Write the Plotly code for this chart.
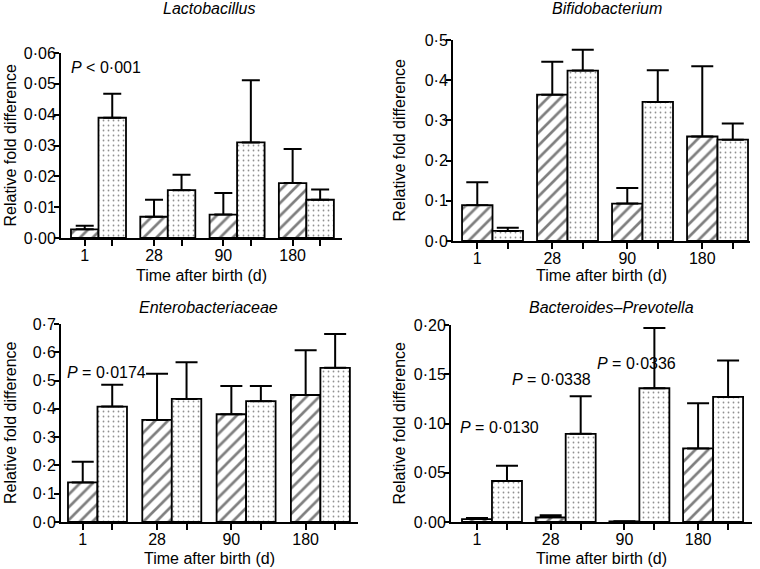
import plotly.graph_objects as go

W, H = 760, 569

# ---------------- data ----------------
days = ["1", "28", "90", "180"]

titles = ["Lactobacillus", "Bifidobacterium", "Enterobacteriaceae", "Bacteroides–Prevotella"]

# hatched group (first bar of each pair) and dotted group (second bar)
lacto_hatched = [0.0028, 0.0069, 0.0076, 0.0178]
lacto_hatched_err = [0.0012, 0.0055, 0.0070, 0.0111]
lacto_dotted = [0.0390, 0.0155, 0.0310, 0.0124]
lacto_dotted_err = [0.0078, 0.0050, 0.0202, 0.0033]

bifido_hatched = [0.089, 0.364, 0.093, 0.260]
bifido_hatched_err = [0.057, 0.082, 0.039, 0.175]
bifido_dotted = [0.025, 0.424, 0.346, 0.252]
bifido_dotted_err = [0.008, 0.052, 0.079, 0.040]

entero_hatched = [0.140, 0.361, 0.381, 0.449]
entero_hatched_err = [0.073, 0.163, 0.100, 0.158]
entero_dotted = [0.408, 0.435, 0.427, 0.545]
entero_dotted_err = [0.077, 0.130, 0.054, 0.120]

bact_hatched = [0.0030, 0.0047, 0.0006, 0.0747]
bact_hatched_err = [0.0010, 0.0021, 0.0002, 0.0459]
bact_dotted = [0.0416, 0.0895, 0.1358, 0.1270]
bact_dotted_err = [0.0154, 0.0382, 0.0612, 0.0370]

lacto_yticks = [0, 0.01, 0.02, 0.03, 0.04, 0.05, 0.06]
bifido_yticks = [0, 0.1, 0.2, 0.3, 0.4, 0.5]
entero_yticks = [0, 0.1, 0.2, 0.3, 0.4, 0.5, 0.6, 0.7]
bact_yticks = [0, 0.05, 0.10, 0.15, 0.20]

p_lacto = ["<i>P</i> &lt; 0·001"]
p_bifido = ["<i>P</i> = 0·0064"]
p_entero = ["<i>P</i> = 0·0174"]
p_bact = ["<i>P</i> = 0·0130", "<i>P</i> = 0·0338", "<i>P</i> = 0·0336"]

# ---------------- layout helpers ----------------
FONT = "Liberation Sans, Arial, sans-serif"
FS = 16


def px(x):
    return x / W


def py(y):
    return 1 - y / H


panels = [
    dict(h=lacto_hatched, he=lacto_hatched_err, d=lacto_dotted, de=lacto_dotted_err,
         yt=lacto_yticks, dec=2, xdom=(61, 342), ydom=(53, 238), xr=(-0.541, 3.514), gap=0.206, cap=9,
         ann=[(p_lacto[0], -0.42, 0.0553)], title_xy=(209, 9), xt_y=275, yt_x=10),
    dict(h=bifido_hatched, he=bifido_hatched_err, d=bifido_dotted, de=bifido_dotted_err,
         yt=bifido_yticks, dec=1, xdom=(453, 750), ydom=(40, 241), xr=(-0.527, 3.433), gap=0.187, cap=11,
         ann=[(p_bifido[0], 1.54, 0.505)], title_xy=(607, 9), xt_y=275, yt_x=399),
    dict(h=entero_hatched, he=entero_hatched_err, d=entero_dotted, de=entero_dotted_err,
         yt=entero_yticks, dec=1, xdom=(61, 358), ydom=(324, 522), xr=(-0.491, 3.506), gap=0.206, cap=11,
         ann=[(p_entero[0], -0.44, 0.527)], title_xy=(208, 307), xt_y=558, yt_x=10),
    dict(h=bact_hatched, he=bact_hatched_err, d=bact_dotted, de=bact_dotted_err,
         yt=bact_yticks, dec=2, xdom=(451, 752), ydom=(325, 522), xr=(-0.556, 3.528), gap=0.186, cap=11,
         ann=[(p_bact[0], -0.46, 0.0964), (p_bact[1], 0.245, 0.1442), (p_bact[2], 1.398, 0.1614)],
         title_xy=(611, 307), xt_y=558, yt_x=399),
]

fig = go.Figure()
annotations = []
layout = {}

for k, p in enumerate(panels):
    n = "" if k == 0 else str(k + 1)
    xa, ya = "x" + n, "y" + n
    xi = list(range(len(days)))
    bw = (1 - p["gap"]) / 2
    half = bw / 2

    fig.add_trace(go.Bar(
        x=xi, y=p["h"], xaxis=xa, yaxis=ya, width=bw, offset=-bw,
        marker=dict(color="white", line=dict(color="black", width=1.8),
                    pattern=dict(shape="/", fgcolor="black", bgcolor="white", size=9, solidity=0.3)),
        error_y=dict(type="data", symmetric=False, array=p["he"], arrayminus=[0] * 4,
                     color="black", thickness=2, width=p["cap"]),
        showlegend=False, hoverinfo="skip",
    ))
    fig.add_trace(go.Bar(
        x=xi, y=p["d"], xaxis=xa, yaxis=ya, width=bw, offset=0,
        marker=dict(color="white", line=dict(color="black", width=1.8),
                    pattern=dict(shape=".", fgcolor="#222", bgcolor="white", size=5, solidity=0.1)),
        error_y=dict(type="data", symmetric=False, array=p["de"], arrayminus=[0] * 4,
                     color="black", thickness=2, width=p["cap"]),
        showlegend=False, hoverinfo="skip",
    ))

    tickvals, ticktext = [], []
    for i, d in zip(xi, days):
        tickvals += [i - half, i + half]
        ticktext += [d, ""]

    layout["xaxis" + n] = dict(
        domain=[px(p["xdom"][0]), px(p["xdom"][1])], anchor=ya, range=list(p["xr"]),
        tickmode="array", tickvals=tickvals, ticktext=ticktext, tickangle=0, automargin=False,
        ticklabelstandoff=-4,
        showline=True, linewidth=2, linecolor="black", ticks="outside", ticklen=6, tickwidth=2,
        tickcolor="black", showgrid=False, zeroline=False,
        tickfont=dict(family=FONT, size=FS, color="black"),
    )
    ymax = p["yt"][-1]
    fmt = "{:." + str(p["dec"]) + "f}"
    layout["yaxis" + n] = dict(
        domain=[py(p["ydom"][1]), py(p["ydom"][0])], anchor=xa, range=[0, ymax], automargin=False,
        tickmode="array", tickvals=p["yt"], ticktext=[fmt.format(v).replace(".", "·") for v in p["yt"]],
        ticklabelstandoff=-5,
        showline=True, linewidth=2, linecolor="black", ticks="outside", ticklen=5, tickwidth=2,
        tickcolor="black", showgrid=False, zeroline=False,
        tickfont=dict(family=FONT, size=FS, color="black"),
    )

    for text, ax, ay in p["ann"]:
        annotations.append(dict(text=text, x=ax, y=ay, xref=xa, yref=ya, xanchor="left", yanchor="middle",
                                showarrow=False, font=dict(family=FONT, size=FS, color="black")))

    tx, ty = p["title_xy"]
    annotations.append(dict(text="<i>" + titles[k] + "</i>", x=px(tx), y=py(ty), xref="paper", yref="paper",
                            xanchor="center", yanchor="middle", showarrow=False,
                            font=dict(family=FONT, size=FS, color="black")))
    xc = (p["xdom"][0] + p["xdom"][1]) / 2
    annotations.append(dict(text="Time after birth (d)", x=px(xc), y=py(p["xt_y"]), xref="paper", yref="paper",
                            xanchor="center", yanchor="middle", showarrow=False,
                            font=dict(family=FONT, size=FS, color="black")))
    yc = (p["ydom"][0] + p["ydom"][1]) / 2
    annotations.append(dict(text="Relative fold difference", x=px(p["yt_x"]), y=py(yc), xref="paper", yref="paper",
                            xanchor="center", yanchor="middle", textangle=-90, showarrow=False,
                            font=dict(family=FONT, size=FS, color="black")))

fig.update_layout(
    width=W, height=H, margin=dict(l=0, r=0, t=0, b=0, pad=0, autoexpand=False),
    paper_bgcolor="white", plot_bgcolor="white",
    barmode="overlay", hovermode=False,
    annotations=annotations, showlegend=False,
    **layout,
)

fig.write_html("out.html", config={"displayModeBar": False, "staticPlot": True},
               post_script="document.body.style.margin='0px';document.body.style.overflow='hidden';")
